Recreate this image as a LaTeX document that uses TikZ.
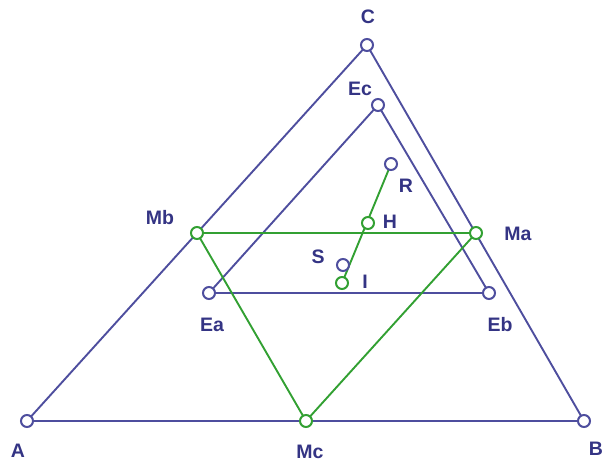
\documentclass[tikz,border=0pt]{standalone}
\usepackage{fontspec}
\setmainfont{Liberation Sans}
\usepackage{xcolor}
\usetikzlibrary{positioning,backgrounds}
\pgfdeclarelayer{edgelayer}
\pgfdeclarelayer{nodelayer}
\pgfsetlayers{background,edgelayer,nodelayer,main}
\definecolor{geoblue}{RGB}{78,78,158}
\definecolor{geogreen}{RGB}{50,160,50}
\definecolor{labblue}{RGB}{52,52,132}
\tikzstyle{none}=[inner sep=0mm]
\tikzstyle{pt}=[shape=circle,fill=white,draw=geoblue,line width=2pt,minimum size=12pt,inner sep=0pt]
\tikzstyle{gpt}=[pt,draw=geogreen]
\tikzstyle{lab}=[none,text=labblue,font=\fontsize{19.5}{21}\selectfont\bfseries]
\tikzstyle{bl}=[draw=geoblue,line width=1.9pt]
\tikzstyle{gl}=[draw=geogreen,line width=1.9pt]

\begin{document}
\begin{tikzpicture}[x=1pt,y=-1pt]
	\useasboundingbox (0,0) rectangle (605,463);
	\begin{pgfonlayer}{nodelayer}
		\node [style=pt] (A) at (27, 421) {};
		\node [style=pt] (B) at (584, 421) {};
		\node [style=pt] (C) at (367, 45) {};
		\node [style=pt] (Ea) at (209, 293) {};
		\node [style=pt] (Eb) at (489, 293) {};
		\node [style=pt] (Ec) at (378, 105) {};
		\node [style=gpt] (Ma) at (476, 233) {};
		\node [style=gpt] (Mb) at (197, 233) {};
		\node [style=gpt] (Mc) at (306, 421) {};
		\node [style=pt] (R) at (391, 164) {};
		\node [style=gpt] (H) at (368, 223) {};
		\node [style=gpt] (I) at (342, 283) {};
		\node [style=pt] (S) at (343, 265) {};
		% labels
		\node [style=lab] (lA) at (18, 451) {A};
		\node [style=lab] (lB) at (596, 449) {B};
		\node [style=lab] (lC) at (368, 17) {C};
		\node [style=lab] (lEa) at (212, 325) {Ea};
		\node [style=lab] (lEb) at (500, 325) {Eb};
		\node [style=lab] (lEc) at (360, 89) {Ec};
		\node [style=lab] (lMa) at (518, 234) {Ma};
		\node [style=lab] (lMb) at (160, 218) {Mb};
		\node [style=lab] (lMc) at (310, 452) {Mc};
		\node [style=lab] (lR) at (406, 186) {R};
		\node [style=lab] (lH) at (390, 222) {H};
		\node [style=lab] (lS) at (318, 257) {S};
		\node [style=lab] (lI) at (365, 282) {I};
	\end{pgfonlayer}
	\begin{pgfonlayer}{edgelayer}
		\draw [style=bl] (A.center) to (B.center);
		\draw [style=bl] (B.center) to (C.center);
		\draw [style=bl] (C.center) to (A.center);
		\draw [style=bl] (Ea.center) to (Eb.center);
		\draw [style=bl] (Eb.center) to (Ec.center);
		\draw [style=bl] (Ec.center) to (Ea.center);
		\draw [style=gl] (Mb.center) to (Ma.center);
		\draw [style=gl] (Ma.center) to (Mc.center);
		\draw [style=gl] (Mc.center) to (Mb.center);
		\draw [style=gl] (R.center) to (I.center);
	\end{pgfonlayer}
\end{tikzpicture}
\end{document}
